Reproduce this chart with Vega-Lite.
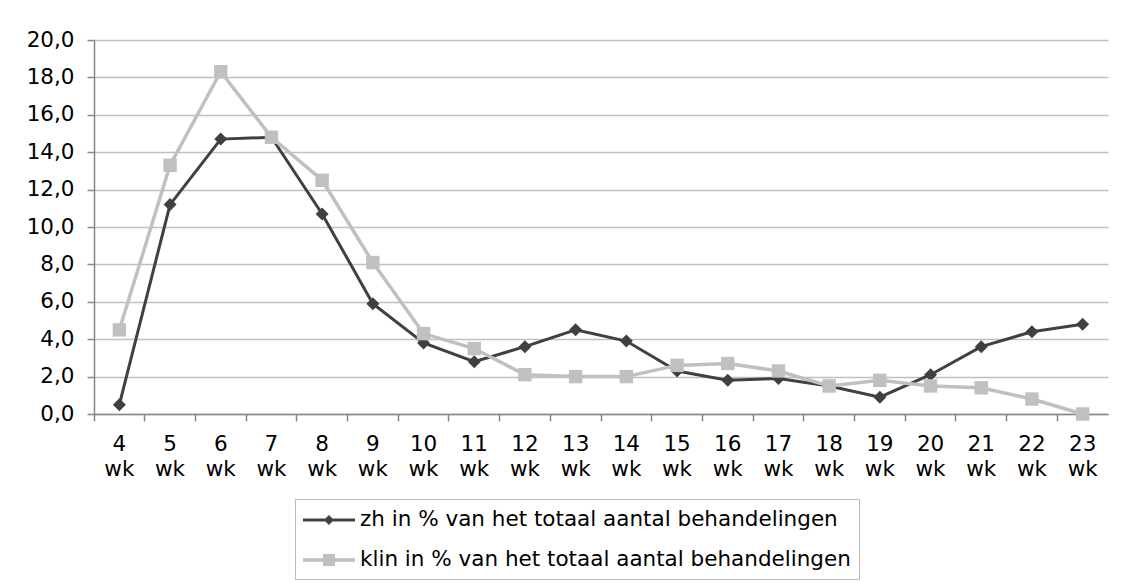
{
  "$schema": "https://vega.github.io/schema/vega-lite/v6.json",
  "autosize": {"type": "none"},
  "width": 1014,
  "height": 374,
  "padding": {"left": 94, "top": 40, "right": 18, "bottom": 169},
  "background": "white",
  "config": {
    "view": {"stroke": null},
    "font": "DejaVu Sans",
    "axis": {
      "labelFont": "DejaVu Sans",
      "labelFontSize": 21.5,
      "labelColor": "#000000",
      "domainColor": "#868686",
      "domainWidth": 1.5,
      "tickColor": "#868686",
      "tickWidth": 1.5,
      "tickSize": 7,
      "gridColor": "#c0c0c0",
      "gridWidth": 1.5,
      "title": null
    }
  },
  "data": {
    "values": [
      {"week": "4 wk", "series": "zh in % van het totaal aantal behandelingen", "value": 0.5},
      {"week": "5 wk", "series": "zh in % van het totaal aantal behandelingen", "value": 11.2},
      {"week": "6 wk", "series": "zh in % van het totaal aantal behandelingen", "value": 14.7},
      {"week": "7 wk", "series": "zh in % van het totaal aantal behandelingen", "value": 14.8},
      {"week": "8 wk", "series": "zh in % van het totaal aantal behandelingen", "value": 10.7},
      {"week": "9 wk", "series": "zh in % van het totaal aantal behandelingen", "value": 5.9},
      {"week": "10 wk", "series": "zh in % van het totaal aantal behandelingen", "value": 3.8},
      {"week": "11 wk", "series": "zh in % van het totaal aantal behandelingen", "value": 2.8},
      {"week": "12 wk", "series": "zh in % van het totaal aantal behandelingen", "value": 3.6},
      {"week": "13 wk", "series": "zh in % van het totaal aantal behandelingen", "value": 4.5},
      {"week": "14 wk", "series": "zh in % van het totaal aantal behandelingen", "value": 3.9},
      {"week": "15 wk", "series": "zh in % van het totaal aantal behandelingen", "value": 2.3},
      {"week": "16 wk", "series": "zh in % van het totaal aantal behandelingen", "value": 1.8},
      {"week": "17 wk", "series": "zh in % van het totaal aantal behandelingen", "value": 1.9},
      {"week": "18 wk", "series": "zh in % van het totaal aantal behandelingen", "value": 1.5},
      {"week": "19 wk", "series": "zh in % van het totaal aantal behandelingen", "value": 0.9},
      {"week": "20 wk", "series": "zh in % van het totaal aantal behandelingen", "value": 2.1},
      {"week": "21 wk", "series": "zh in % van het totaal aantal behandelingen", "value": 3.6},
      {"week": "22 wk", "series": "zh in % van het totaal aantal behandelingen", "value": 4.4},
      {"week": "23 wk", "series": "zh in % van het totaal aantal behandelingen", "value": 4.8},
      {"week": "4 wk", "series": "klin in % van het totaal aantal behandelingen", "value": 4.5},
      {"week": "5 wk", "series": "klin in % van het totaal aantal behandelingen", "value": 13.3},
      {"week": "6 wk", "series": "klin in % van het totaal aantal behandelingen", "value": 18.3},
      {"week": "7 wk", "series": "klin in % van het totaal aantal behandelingen", "value": 14.8},
      {"week": "8 wk", "series": "klin in % van het totaal aantal behandelingen", "value": 12.5},
      {"week": "9 wk", "series": "klin in % van het totaal aantal behandelingen", "value": 8.1},
      {"week": "10 wk", "series": "klin in % van het totaal aantal behandelingen", "value": 4.3},
      {"week": "11 wk", "series": "klin in % van het totaal aantal behandelingen", "value": 3.5},
      {"week": "12 wk", "series": "klin in % van het totaal aantal behandelingen", "value": 2.1},
      {"week": "13 wk", "series": "klin in % van het totaal aantal behandelingen", "value": 2.0},
      {"week": "14 wk", "series": "klin in % van het totaal aantal behandelingen", "value": 2.0},
      {"week": "15 wk", "series": "klin in % van het totaal aantal behandelingen", "value": 2.6},
      {"week": "16 wk", "series": "klin in % van het totaal aantal behandelingen", "value": 2.7},
      {"week": "17 wk", "series": "klin in % van het totaal aantal behandelingen", "value": 2.3},
      {"week": "18 wk", "series": "klin in % van het totaal aantal behandelingen", "value": 1.5},
      {"week": "19 wk", "series": "klin in % van het totaal aantal behandelingen", "value": 1.8},
      {"week": "20 wk", "series": "klin in % van het totaal aantal behandelingen", "value": 1.5},
      {"week": "21 wk", "series": "klin in % van het totaal aantal behandelingen", "value": 1.4},
      {"week": "22 wk", "series": "klin in % van het totaal aantal behandelingen", "value": 0.8},
      {"week": "23 wk", "series": "klin in % van het totaal aantal behandelingen", "value": 0.0}
    ]
  },
  "encoding": {
    "x": {
      "field": "week",
      "type": "nominal",
      "sort": null,
      "scale": {"type": "band", "paddingInner": 0, "paddingOuter": 0},
      "axis": {
        "labelAngle": 0,
        "bandPosition": 0,
        "labelExpr": "split(datum.label, ' ')",
        "labelLineHeight": 25,
        "labelPadding": 12,
        "labelBaseline": "top"
      }
    },
    "y": {
      "field": "value",
      "type": "quantitative",
      "scale": {"domain": [0, 20], "nice": false},
      "axis": {
        "values": [0, 2, 4, 6, 8, 10, 12, 14, 16, 18, 20],
        "labelExpr": "replace(format(datum.value, '.1f'), '.', ',')",
        "labelPadding": 13,
        "grid": true
      }
    },
    "color": {
      "field": "series",
      "type": "nominal",
      "sort": null,
      "scale": {
        "domain": ["zh in % van het totaal aantal behandelingen", "klin in % van het totaal aantal behandelingen"],
        "range": ["#404040", "#c0c0c0"]
      },
      "legend": {
        "orient": "none",
        "legendX": 201,
        "legendY": 459,
        "direction": "vertical",
        "title": null,
        "strokeColor": "#bbbbbb",
        "padding": 8,
        "labelFont": "DejaVu Sans",
        "labelFontSize": 21.5,
        "labelColor": "#000000",
        "labelOffset": 18,
        "symbolSize": 676,
        "symbolOffset": 13,
        "symbolStrokeWidth": 0,
        "rowPadding": 16,
        "labelLimit": 0,
        "encode": {
          "symbols": {
            "update": {
              "shape": {"signal": "datum.value === 'zh in % van het totaal aantal behandelingen' ? 'M-2,-0.115L2,-0.115L2,0.115L-2,0.115Z M0,-0.385L0.385,0L0,0.385L-0.385,0Z' : 'M-2,-0.135L2,-0.135L2,0.135L-2,0.135Z M-0.46,-0.46L0.46,-0.46L0.46,0.46L-0.46,0.46Z'"},
              "fill": {"signal": "scale('color', datum.value)"},
              "fillOpacity": {"value": 1},
              "stroke": {"value": "transparent"},
              "strokeWidth": {"value": 0},
              "opacity": {"value": 1}
            }
          }
        }
      }
    }
  },
  "layer": [
    {
      "transform": [{"filter": "datum.series === 'zh in % van het totaal aantal behandelingen'"}],
      "mark": {"type": "line", "strokeWidth": 3}
    },
    {
      "transform": [{"filter": "datum.series === 'zh in % van het totaal aantal behandelingen'"}],
      "mark": {"type": "point", "shape": "diamond", "filled": true, "size": 169, "opacity": 1}
    },
    {
      "transform": [{"filter": "datum.series === 'klin in % van het totaal aantal behandelingen'"}],
      "mark": {"type": "line", "strokeWidth": 3.5}
    },
    {
      "transform": [{"filter": "datum.series === 'klin in % van het totaal aantal behandelingen'"}],
      "mark": {"type": "point", "shape": "square", "filled": true, "size": 180, "opacity": 1}
    }
  ]
}
